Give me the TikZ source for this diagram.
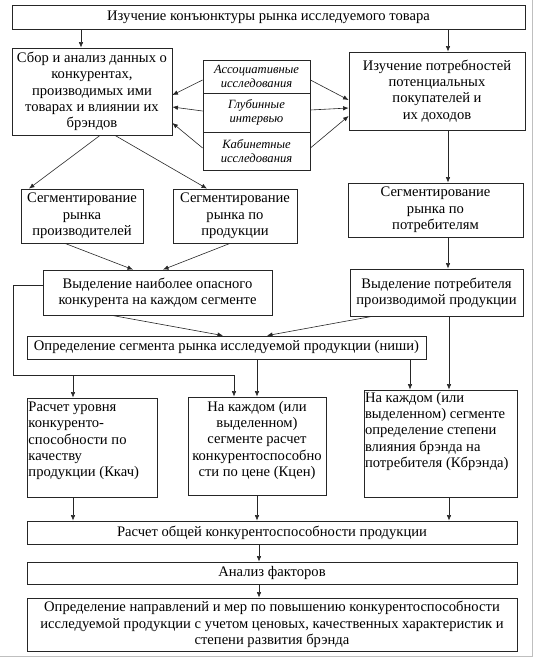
\documentclass[tikz,border=0pt]{standalone}
\usepackage{fontspec}
\setmainfont{Liberation Serif}
\newfontfamily\tnr{Liberation Serif}
\usetikzlibrary{arrows.meta}
\tikzset{
  box/.style={draw=black!85, line width=0.8bp, inner sep=1bp, align=center,
    font=\tnr\fontsize{14.6bp}{16.3bp}\selectfont},
  cell/.style={draw=black!85, line width=0.8bp, inner sep=0pt, align=center,
    minimum width=107bp, font=\tnr\fontsize{12.6bp}{14.5bp}\selectfont\itshape},
  arr/.style={-{Latex[length=5.5bp,width=4.5bp]}, line width=0.6bp, draw=black!85},
  ln/.style={line width=0.6bp, draw=black!85}
}
\begin{document}
\begin{tikzpicture}[x=1bp,y=-1bp]
\useasboundingbox (0,0) rectangle (534,658);
\draw[black!25, line width=1bp] (532,0) -- (532,656) -- (0,656);

\node[box, minimum width=513bp, minimum height=24bp] (top) at (268.5,17)
  {Изучение конъюнктуры рынка исследуемого товара};
\node[box, minimum width=160bp, minimum height=87bp] (sbor) at (92,91.5)
  {Сбор и анализ данных о\\конкурентах,\\производимых ими\\товарах и влиянии их\\брэндов};
\node[cell, minimum height=33bp] (c1) at (256.5,76.5) {Ассоциативные\\исследования};
\node[cell, minimum height=39bp] (c2) at (256.5,112.5) {Глубинные\\интервью};
\node[cell, minimum height=38bp] (c3) at (256.5,151) {Кабинетные\\исследования};
\node[box, minimum width=176bp, minimum height=78bp] (izuch) at (437,91)
  {Изучение потребностей\\потенциальных\\покупателей и\\их доходов};

\node[box, minimum width=122bp, minimum height=54bp] (segp) at (82,216)
  {Сегментирование\\рынка\\производителей};
\node[box, minimum width=124bp, minimum height=54bp] (segpr) at (235,216)
  {Сегментирование\\рынка по\\продукции};
\node[box, minimum width=175bp, minimum height=54bp] (segc) at (435.5,210)
  {Сегментирование\\рынка по\\потребителям};

\node[box, minimum width=229bp, minimum height=45bp] (vydk) at (157.5,292.5)
  {Выделение наиболее опасного\\конкурента на каждом сегменте};
\node[box, minimum width=173bp, minimum height=47bp] (vydp) at (436.5,292.5)
  {Выделение потребителя\\производимой продукции};

\node[box, minimum width=399bp, minimum height=23bp] (niche) at (226.5,347.5)
  {Определение сегмента рынка исследуемой продукции (ниши)};

\node[box, inner sep=0pt, minimum width=130bp, minimum height=99bp] (kkach) at (92,447.5)
  {\parbox[c][95bp][t]{127bp}{\raggedright\vspace*{2bp}Расчет уровня\\конкуренто-\\способности по\\качеству\\продукции (Ккач)}};
\node[box, inner sep=0pt, minimum width=138bp, minimum height=98bp] (kcen) at (257,446)
  {\parbox[c][94bp][t]{137bp}{\centering\vspace*{2bp}На каждом (или\\выделенном)\\сегменте расчет\\конкурентоспособно\\сти по цене (Кцен)}};
\node[box, inner sep=0pt, minimum width=153bp, minimum height=107bp] (kbr) at (440.5,443.5)
  {\parbox[c][103bp][t]{151bp}{\raggedright На каждом (или\\выделенном) сегменте\\определение степени\\влияния брэнда на\\потребителя (Кбрэнда)}};

\node[box, minimum width=490bp, minimum height=23bp] (total) at (272,532.5)
  {Расчет общей конкурентоспособности продукции};
\node[box, minimum width=490bp, minimum height=22bp] (anal) at (272,573)
  {Анализ факторов};
\node[box, minimum width=490bp, minimum height=53bp] (final) at (272,624.5)
  {Определение направлений и мер по повышению конкурентоспособности\\исследуемой продукции с учетом ценовых, качественных характеристик и\\степени развития брэнда};

% connectors
\draw[arr] (81,0 |- top.south) -- (81,0 |- sbor.north);
\draw[arr] (448,0 |- top.south) -- (448,0 |- izuch.north);

\draw[arr] (c1.west |- 0,80) -- (sbor.east |- 0,95);
\draw[arr] (c2.west |- 0,111) -- (sbor.east |- 0,107);
\draw[arr] (c3.west |- 0,148) -- (sbor.east |- 0,123);
\draw[arr] (c1.east |- 0,80) -- (izuch.west |- 0,100);
\draw[arr] (c2.east |- 0,110) -- (izuch.west |- 0,108);
\draw[arr] (c3.east |- 0,148) -- (izuch.west |- 0,116);

\draw[arr] (sbor.south -| 100,0) -- (segp.north -| 29,0);
\draw[arr] (sbor.south -| 115,0) -- (segpr.north -| 207,0);
\draw[arr] (448,0 |- izuch.south) -- (448,0 |- segc.north);
\draw[arr] (448,0 |- segc.south) -- (448,0 |- vydp.north);

\draw[arr] (segp.south -| 65,0) -- (vydk.north -| 133,0);
\draw[arr] (segpr.south -| 230,0) -- (vydk.north -| 163,0);
\draw[arr] (vydk.south -| 112,0) -- (niche.north -| 223,0);
\draw[arr] (vydp.south -| 372,0) -- (niche.north -| 267,0);

\coordinate (lc1) at (13,285);
\coordinate (lc2) at (13,375);
\coordinate (lc3) at (234,375);
\coordinate (lb) at (73,375);
\draw[ln] (vydk.west |- lc1) -- (lc1) -- (lc2) -- (lc3);
\draw[arr] (lc3) -- (kcen.north -| lc3);
\draw[arr] (lb) -- (kkach.north -| lb);

\draw[arr] (257,0 |- niche.south) -- (257,0 |- kcen.north);
\draw[arr] (410,0 |- niche.south) -- (410,0 |- kbr.north);
\draw[arr] (449,0 |- vydp.south) -- (449,0 |- kbr.north);

\draw[arr] (73,0 |- kkach.south) -- (73,0 |- total.north);
\draw[arr] (257,0 |- kcen.south) -- (257,0 |- total.north);
\draw[arr] (449,0 |- kbr.south) -- (449,0 |- total.north);
\draw[arr] (259,0 |- total.south) -- (259,0 |- anal.north);
\draw[arr] (259,0 |- anal.south) -- (259,0 |- final.north);
\end{tikzpicture}
\end{document}
